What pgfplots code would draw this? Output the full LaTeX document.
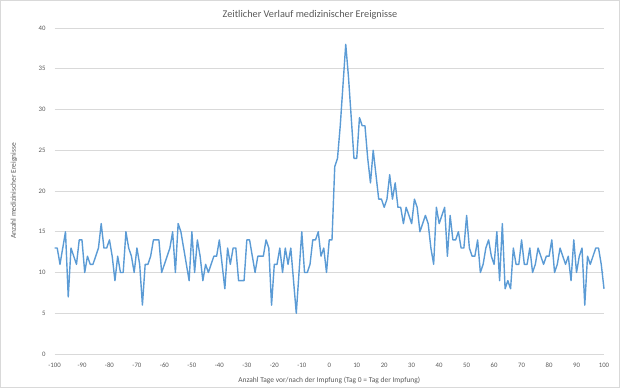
\documentclass[border=0pt]{standalone}
\usepackage{pgfplots}
\pgfplotsset{compat=1.18}
\usepackage{fontspec}
\setmainfont{Carlito}
\definecolor{exblue}{HTML}{5B9BD5}
\definecolor{txtgray}{HTML}{595959}
\definecolor{gridgray}{HTML}{D9D9D9}
\begin{document}
\begin{tikzpicture}
\path[use as bounding box] (0,0) rectangle (620bp,388bp);
\draw[gridgray, line width=0.6bp] (0.5bp,0.5bp) rectangle (619.5bp,387.5bp);
\begin{axis}[
  at={(54.5bp,34bp)}, anchor=south west,
  scale only axis, width=549.5bp, height=326bp,
  xmin=-100, xmax=100, ymin=0, ymax=40,
  xtick={-100,-90,...,100}, ytick={0,5,...,40},
  axis line style={draw=none},
  major tick length=0pt,
  ymajorgrids, grid style={gridgray, line width=0.6bp},
  /pgf/number format/assume math mode=true,
  ticklabel style={font=\fontsize{6.8}{8}\selectfont, text=txtgray},
  xticklabel style={yshift=-5.5bp},
  yticklabel style={xshift=-5.5bp},
  title={Zeitlicher Verlauf medizinischer Ereignisse},
  title style={font=\fontsize{10.3}{12}\selectfont, text=txtgray, at={(axis description cs:0.465,1.021)}, anchor=center},
  xlabel={Anzahl Tage vor/nach der Impfung (Tag 0 = Tag der Impfung)},
  xlabel style={font=\fontsize{7.5}{9}\selectfont, text=txtgray, at={(axis description cs:0.5,-0.08)}, anchor=center},
  ylabel={Anzahl medizinischer Ereignisse},
  ylabel style={font=\fontsize{7.5}{9}\selectfont, text=txtgray, at={(axis description cs:-0.0737,0.5)}, anchor=center, rotate=0},
  clip=false,
]
\addplot[exblue, line width=1.4bp, line join=round, mark=none] table {
x y
-100 13
-99 13
-98 11
-97 13
-96 15
-95 7
-94 13
-93 12
-92 11
-91 14
-90 14
-89 10
-88 12
-87 11
-86 11
-85 12
-84 13
-83 16
-82 13
-81 13
-80 14
-79 12
-78 9
-77 12
-76 10
-75 10
-74 15
-73 13
-72 12
-71 10
-70 13
-69 11
-68 6
-67 11
-66 11
-65 12
-64 14
-63 14
-62 14
-61 10
-60 11
-59 12
-58 13
-57 15
-56 10
-55 16
-54 15
-53 13
-52 11
-51 9
-50 15
-49 10
-48 14
-47 12
-46 9
-45 11
-44 10
-43 11
-42 12
-41 12
-40 14
-39 11
-38 8
-37 13
-36 11
-35 13
-34 13
-33 9
-32 9
-31 9
-30 14
-29 14
-28 12
-27 10
-26 12
-25 12
-24 12
-23 14
-22 13
-21 6
-20 11
-19 11
-18 13
-17 10
-16 13
-15 11
-14 13
-13 9
-12 5
-11 10
-10 15
-9 10
-8 10
-7 11
-6 14
-5 14
-4 15
-3 12
-2 13
-1 10
0 14
1 14
2 23
3 24
4 28
5 33
6 38
7 34
8 29
9 24
10 24
11 29
12 28
13 28
14 24
15 21
16 25
17 22
18 19
19 19
20 18
21 19
22 22
23 19
24 21
25 18
26 18
27 16
28 18
29 17
30 16
31 19
32 18
33 15
34 16
35 17
36 16
37 13
38 11
39 18
40 16
41 17
42 18
43 12
44 17
45 14
46 14
47 15
48 13
49 13
50 17
51 13
52 12
53 12
54 14
55 10
56 11
57 13
58 14
59 12
60 11
61 15
62 9
63 16
64 8
65 9
66 8
67 13
68 11
69 11
70 14
71 11
72 11
73 13
74 10
75 11
76 13
77 12
78 11
79 12
80 12
81 14
82 10
83 11
84 13
85 12
86 11
87 12
88 9
89 14
90 10
91 12
92 13
93 6
94 12
95 11
96 12
97 13
98 13
99 11
100 8
};
\end{axis}
\end{tikzpicture}
\end{document}
